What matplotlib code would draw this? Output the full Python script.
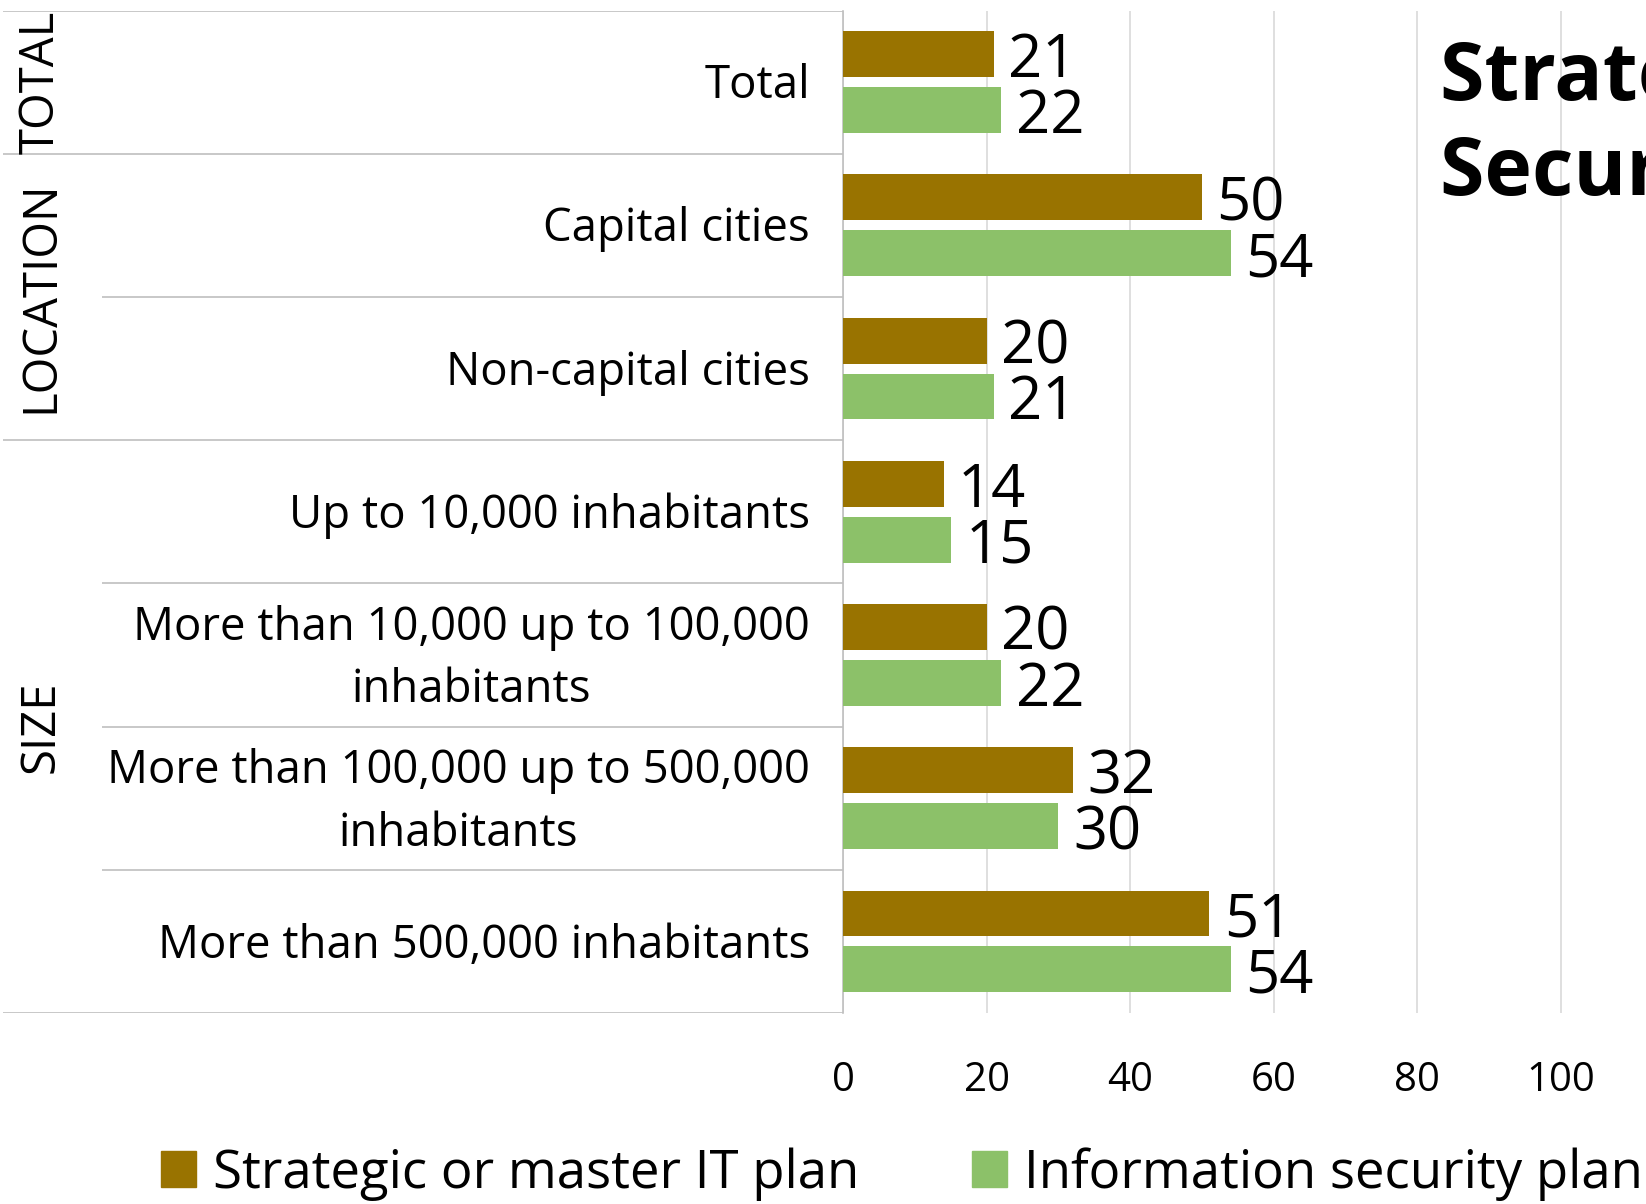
import matplotlib
matplotlib.use("Agg")
import matplotlib.pyplot as plt
from matplotlib.patches import Patch

plt.rcParams['font.family'] = ['Open Sans', 'DejaVu Sans']

categories = [
    "Total",
    "Capital cities",
    "Non-capital cities",
    "Up to 10,000 inhabitants",
    "More than 10,000 up to 100,000\ninhabitants",
    "More than 100,000 up to 500,000\ninhabitants",
    "More than 500,000 inhabitants",
]
groups = ["TOTAL", "LOCATION", "SIZE"]
group_rows = [(0, 0), (1, 2), (3, 6)]
strategic = [21, 50, 20, 14, 20, 32, 51]
security = [22, 54, 21, 15, 22, 30, 54]
series_names = ["Strategic or master IT plan", "Information security plan"]
xticks = [0, 20, 40, 60, 80, 100]
title_lines = ["Strategic and", "Security Plans"]

C_BROWN = "#997300"
C_GREEN = "#8CC169"
C_LINE = "#bfbfbf"
C_GRID = "#d9d9d9"

W, H = 1646, 1204
fig = plt.figure(figsize=(W / 100, H / 100), dpi=100)

top_px, bot_px, split_px = 10.5, 1013, 843
ax = fig.add_axes([split_px / W, 1 - bot_px / H, (W - split_px) / W, (bot_px - top_px) / H])
axL = fig.add_axes([0, 1 - bot_px / H, split_px / W, (bot_px - top_px) / H])

n = len(categories)
ys = list(range(n))
bh = 0.32
off = 0.195
ax.barh([y - off for y in ys], strategic, height=bh, color=C_BROWN, zorder=3)
ax.barh([y + off for y in ys], security, height=bh, color=C_GREEN, zorder=3)
for y, v in zip(ys, strategic):
    ax.annotate(str(v), (v, y - off), xytext=(10.5, -5), textcoords='offset points',
                va='center', ha='left', fontsize=43)
for y, v in zip(ys, security):
    ax.annotate(str(v), (v, y + off), xytext=(10.5, -5), textcoords='offset points',
                va='center', ha='left', fontsize=43)

ax.set_ylim(n - 0.5, -0.5)
ax.set_xlim(0, (W - split_px) / 7.18)
ax.set_xticks(xticks)
ax.set_xticklabels([str(t) for t in xticks], fontsize=29)
ax.tick_params(axis='x', length=0, pad=34)
ax.set_yticks([])
ax.grid(axis='x', color=C_GRID, lw=1.2, zorder=0)
for s in ['top', 'right', 'bottom']:
    ax.spines[s].set_visible(False)
ax.spines['left'].set_color(C_LINE)
ax.spines['left'].set_linewidth(1.2)

# left table
axL.set_xlim(0, split_px)
axL.set_ylim(n - 0.5, -0.5)
axL.axis('off')
group_bounds = {-0.5}
for a, b in group_rows:
    group_bounds.add(b + 0.5)
for k in range(n + 1):
    yb = k - 0.5
    x0 = 3 if yb in group_bounds else 102
    axL.plot([x0, split_px], [yb, yb], color=C_LINE, lw=1.2, solid_capstyle='butt')
for y, lab in zip(ys, categories):
    axL.annotate(lab, (810, y), xytext=(0, -3), textcoords='offset points',
                 ha='right', va='center', multialignment='center',
                 fontsize=32.8, linespacing=1.47)
for g, (a, b) in zip(groups, group_rows):
    axL.text(41, (a + b) / 2, g, rotation=90, ha='center', va='center', fontsize=34)

# title (clipped at the right edge, as in the reference)
fig.text(1440 / W, 1 - 100 / H, title_lines[0], fontsize=58, fontweight='bold', va='baseline', ha='left')
fig.text(1440 / W, 1 - 195 / H, title_lines[1], fontsize=58, fontweight='bold', va='baseline', ha='left')

handles = [Patch(color=C_BROWN, label=series_names[0]), Patch(color=C_GREEN, label=series_names[1])]
fig.legend(handles=handles, loc='center left', bbox_to_anchor=(161 / W, 1 - 1174 / H),
           ncol=2, frameon=False, fontsize=38, handlelength=0.66, handleheight=0.66,
           handletextpad=0.32, columnspacing=2.15, borderpad=0, borderaxespad=0)

fig.savefig("out.png", dpi=100)
